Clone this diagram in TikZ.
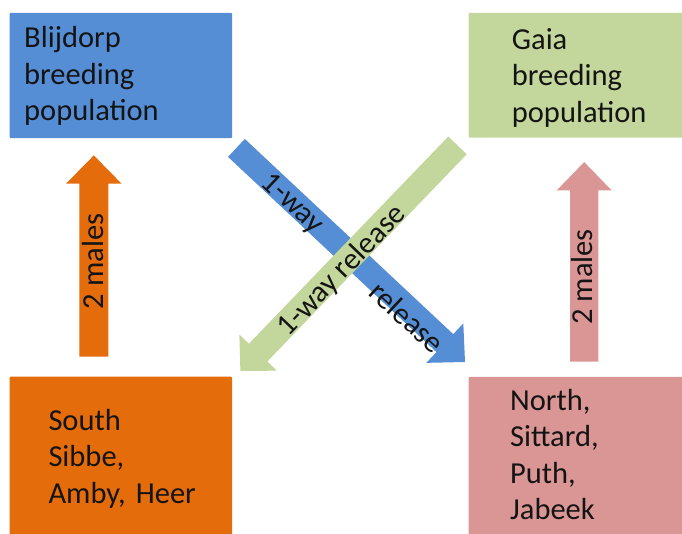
\documentclass[tikz,border=0pt]{standalone}
\usepackage{fontspec}
\setmainfont{Carlito}
\usetikzlibrary{calc}
\definecolor{cblue}{RGB}{85,142,213}
\definecolor{cgreen}{RGB}{195,214,155}
\definecolor{corange}{RGB}{228,108,10}
\definecolor{cpink}{RGB}{217,150,148}
\definecolor{ctext}{RGB}{20,20,20}
\newcommand\blockarrow[6]{%
  \coordinate (#2-hb) at ($(#3)!#6!(#2)$);
  \fill[#1] ($(#2)!#4!90:(#3)$) -- ($(#2-hb)!#4!90:(#3)$) -- ($(#2-hb)!#5!90:(#3)$) -- (#3)
     -- ($(#2-hb)!#5!-90:(#3)$) -- ($(#2-hb)!#4!-90:(#3)$) -- ($(#2)!#4!-90:(#3)$) -- cycle;
}
\tikzset{
  box/.style={rectangle, draw=none, inner sep=0pt, rounded corners=1pt, anchor=north west},
  boxtext/.style={font=\fontsize{30.5}{36.5}\selectfont, text=ctext, inner sep=0pt,
     text width=210pt, align=left, anchor=base west},
  arrtext/.style={font=\fontsize{30.5}{36.5}\selectfont, text=ctext, inner sep=0pt, anchor=center}
}
\begin{document}
\begin{tikzpicture}[x=1pt,y=-1pt]
\useasboundingbox (0,0) rectangle (682,533);
% boxes
\node[box, fill=cblue, minimum width=222.7pt, minimum height=125.3pt] (blij) at (9.3,12.7) {};
\node[box, fill=cgreen, minimum width=215pt, minimum height=124.8pt] (gaia) at (468.3,12.7) {};
\node[box, fill=corange, minimum width=222.7pt, minimum height=160pt] (south) at (9.3,376.5) {};
\node[box, fill=cpink, minimum width=215pt, minimum height=160pt] (north) at (468.3,376.7) {};
% box texts
\node[boxtext] (blijtxt) at ($(blij.north west)+(14.7,35)$) {Blijdorp\\breeding\\population};
\node[boxtext] (gaiatxt) at ($(gaia.north west)+(43.4,36.6)$) {Gaia\\breeding\\population};
\node[boxtext] (southtxt) at ($(south.north west)+(39,53.5)$) {South\\Sibbe,\\Amby, Heer};
\node[boxtext] (northtxt) at ($(north.north west)+(41.7,33.3)$) {North,\\Sittard,\\Puth,\\Jabeek};
% arrow end points
\coordinate (oT) at ($(blij.south west)+(84.5,17)$);
\coordinate (oB) at ($(south.north west)+(84.5,-19.8)$);
\coordinate (pT) at ($(gaia.south west)+(115.9,24.2)$);
\coordinate (pB) at ($(north.north west)+(115.9,-15)$);
\coordinate (bA) at ($(blij.south east)+(4,9.5)$);
\coordinate (bB) at ($(north.north west)+(-3.3,-14.7)$);
\coordinate (gA) at ($(gaia.south west)+(-10.8,7.5)$);
\coordinate (gB) at ($(south.north east)+(8,-5.5)$);
% vertical arrows
\blockarrow{corange}{oB}{oT}{14.5pt}{27.8pt}{28.3pt}
\blockarrow{cpink}{pB}{pT}{14.2pt}{27.5pt}{28.3pt}
% diagonal arrows
\blockarrow{cblue}{bA}{bB}{12.3pt}{27pt}{27.6pt}
\blockarrow{cgreen}{gA}{gB}{12.8pt}{26pt}{25.5pt}
% arrow labels
\node[arrtext, rotate=90] (om) at (93.3,261.5) {2 males};
\node[arrtext, rotate=90] (pm) at (581.7,277) {2 males};
\node[arrtext, rotate=-43.1] (b1) at (292,204) {1-way};
\node[arrtext, rotate=-43.1] (b2) at (407,317) {release};
\node[arrtext, rotate=46.1] (g1) at (342,271) {1-way release};
\end{tikzpicture}
\end{document}
